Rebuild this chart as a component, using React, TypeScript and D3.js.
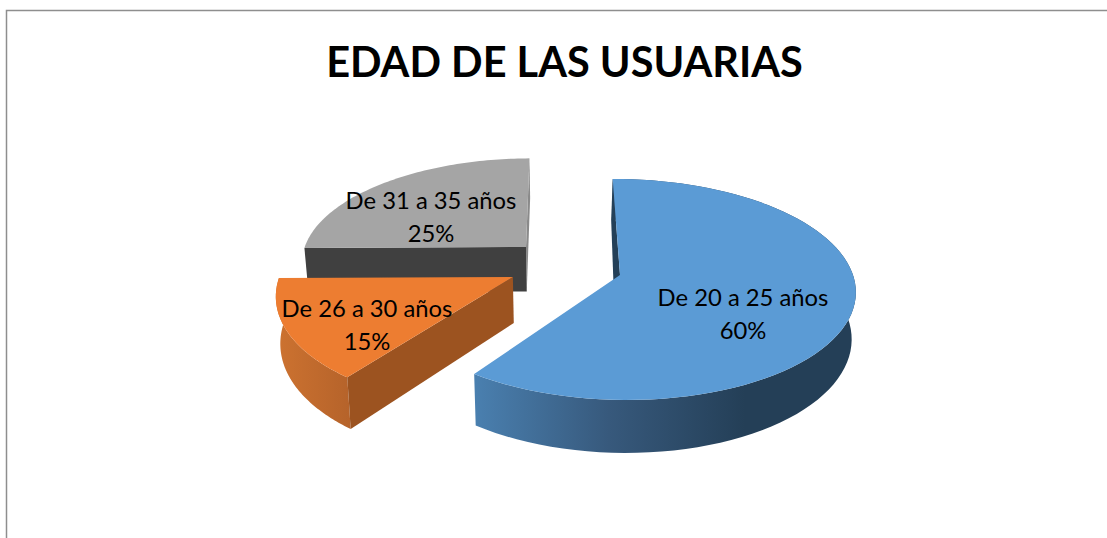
import React from "react";
import * as d3 from "d3";

const title = "EDAD DE LAS USUARIAS";
const categories = ["De 20 a 25 años", "De 31 a 35 años", "De 26 a 30 años"];
const percents = [60, 25, 15];
// display order of the pie, clockwise from 12 o'clock
const order = [0, 2, 1];

const CX = 575, CY = 275, K = 108.6, P = 0.131, H = 46, BOTTOM_X = 0.985;
const START = -0.01;
const INNER_SHIFT_FAR = 1;
const INNER_SHIFT_APEX = 4.5;
const explode: Record<string, [number, number]> = {
  "De 20 a 25 años": [45, 0],
  "De 31 a 35 años": [-50.7, 0.267],
  "De 26 a 30 años": [-62, -0.018],
};
const radii: Record<string, number> = {
  "De 20 a 25 años": 233,
  "De 31 a 35 años": 229,
  "De 26 a 30 años": 233,
};
const zScale: Record<string, number> = {
  "De 20 a 25 años": 1,
  "De 31 a 35 años": 0.983,
  "De 26 a 30 años": 1.03,
};
const angleAdjust: Record<string, [number, number]> = {
  "De 20 a 25 años": [0, 0],
  "De 31 a 35 años": [0, 0],
  "De 26 a 30 años": [0.03, 0],
};
const topColors: Record<string, string> = {
  "De 20 a 25 años": "#5b9bd5",
  "De 31 a 35 años": "#a5a5a5",
  "De 26 a 30 años": "#ed7d31",
};
const labelPos: Record<string, [number, number]> = {
  "De 20 a 25 años": [743, 298],
  "De 31 a 35 años": [431, 201],
  "De 26 a 30 años": [367, 309],
};

function project(X: number, Z: number, low: boolean): [number, number] {
  const s = 1 / (1 + P * Z);
  const x = CX + X * s * (low ? BOTTOM_X : 1);
  const y = CY - K * Z * s + (low ? H * s : 0);
  return [x, y];
}

function rim(off: [number, number], r: number, zs: number, a0: number, a1: number, low: boolean) {
  const angles = d3.range(0, 81).map((i) => a0 + ((a1 - a0) * i) / 80);
  return angles.map((a) =>
    project(off[0] + r * Math.sin(a), off[1] + zs * Math.cos(a), low)
  );
}

const line = d3.line<[number, number]>();

export default function App() {
  const arcs = d3
    .pie<number>()
    .sort(null)
    .startAngle(START)
    .endAngle(START + 2 * Math.PI)
    .value((i) => percents[i])(order);

  const slice = (i: number) => arcs.find((a) => a.data === i)!;

  const draw = (i: number) => {
    const name = categories[i];
    const a = slice(i);
    const off = explode[name];
    const r = radii[name];
    const zs = zScale[name];
    const a0 = a.startAngle + angleAdjust[name][0];
    const a1 = a.endAngle + angleAdjust[name][1];
    const apexT = project(off[0], off[1], false);
    const apexB = project(off[0], off[1], true);
    const topRim = rim(off, r, zs, a0, a1, false);
    const lowRim = rim(off, r, zs, a0, a1, true);
    const outer = [...topRim, ...[...lowRim].reverse()];
    const startWall = [apexT, topRim[0], lowRim[0], apexB] as [number, number][];
    const endWall = [apexT, topRim[80], lowRim[80], apexB] as [number, number][];
    const top = [apexT, ...topRim];
    return { name, outer, startWall, endWall, top };
  };

  const blue = draw(0);
  const orange = draw(2);
  const gray = draw(1);

  const closed = (pts: [number, number][]) => line(pts) + "Z";

  // the blue slice's inner wall shows as a dark sliver left of its top face
  const blueInner: [number, number][] = blue.startWall.map(([x, y], i) => [
    i === 2 ? x - INNER_SHIFT_FAR : i === 3 ? x - INNER_SHIFT_APEX : x,
    y,
  ]);

  return (
    <svg
      width={1107}
      height={538}
      style={{ position: "fixed", left: 0, top: 0, background: "#fff" }}
      fontFamily="Lato, sans-serif"
    >
      <defs>
        <linearGradient id="blueWall" gradientUnits="userSpaceOnUse" x1={473} x2={745} y1={0} y2={0}>
          <stop offset="0" stopColor="#4a80b0" />
          <stop offset="0.5" stopColor="#37597c" />
          <stop offset="1" stopColor="#243f57" />
        </linearGradient>
        <linearGradient id="orangeWall" gradientUnits="userSpaceOnUse" x1={278} x2={355} y1={0} y2={0}>
          <stop offset="0" stopColor="#cc7230" />
          <stop offset="1" stopColor="#b4622a" />
        </linearGradient>
      </defs>
      <path d="M6.5,538V10.5H1107" fill="none" stroke="#8e8e8e" strokeWidth={1.5} />
      <text x={564.5} y={77} textAnchor="middle" fontSize={41.5} fontWeight={700} fill="#000">
        {title}
      </text>

      {/* gray */}
      <path d={closed(gray.endWall)} fill="#8a8a8a" />
      <path d={closed(gray.startWall)} fill="#404040" />
      <path d={closed(gray.top)} fill={topColors[gray.name]} />

      {/* orange */}
      <path d={closed(orange.outer)} fill="url(#orangeWall)" />
      <path d={closed(orange.startWall)} fill="#9c5320" />
      <path d={closed(orange.top)} fill={topColors[orange.name]} />

      {/* blue */}
      <path d={closed(blue.outer)} fill="url(#blueWall)" />
      <path d={closed(blueInner)} fill="#244058" />
      <path d={closed(blue.top)} fill={topColors[blue.name]} />

      {categories.map((c, i) => (
        <g key={c} fontSize={23.8} textAnchor="middle" fill="#000">
          <text x={labelPos[c][0]} y={labelPos[c][1] + 8}>{c}</text>
          <text x={labelPos[c][0]} y={labelPos[c][1] + 41}>{percents[i]}%</text>
        </g>
      ))}
    </svg>
  );
}
